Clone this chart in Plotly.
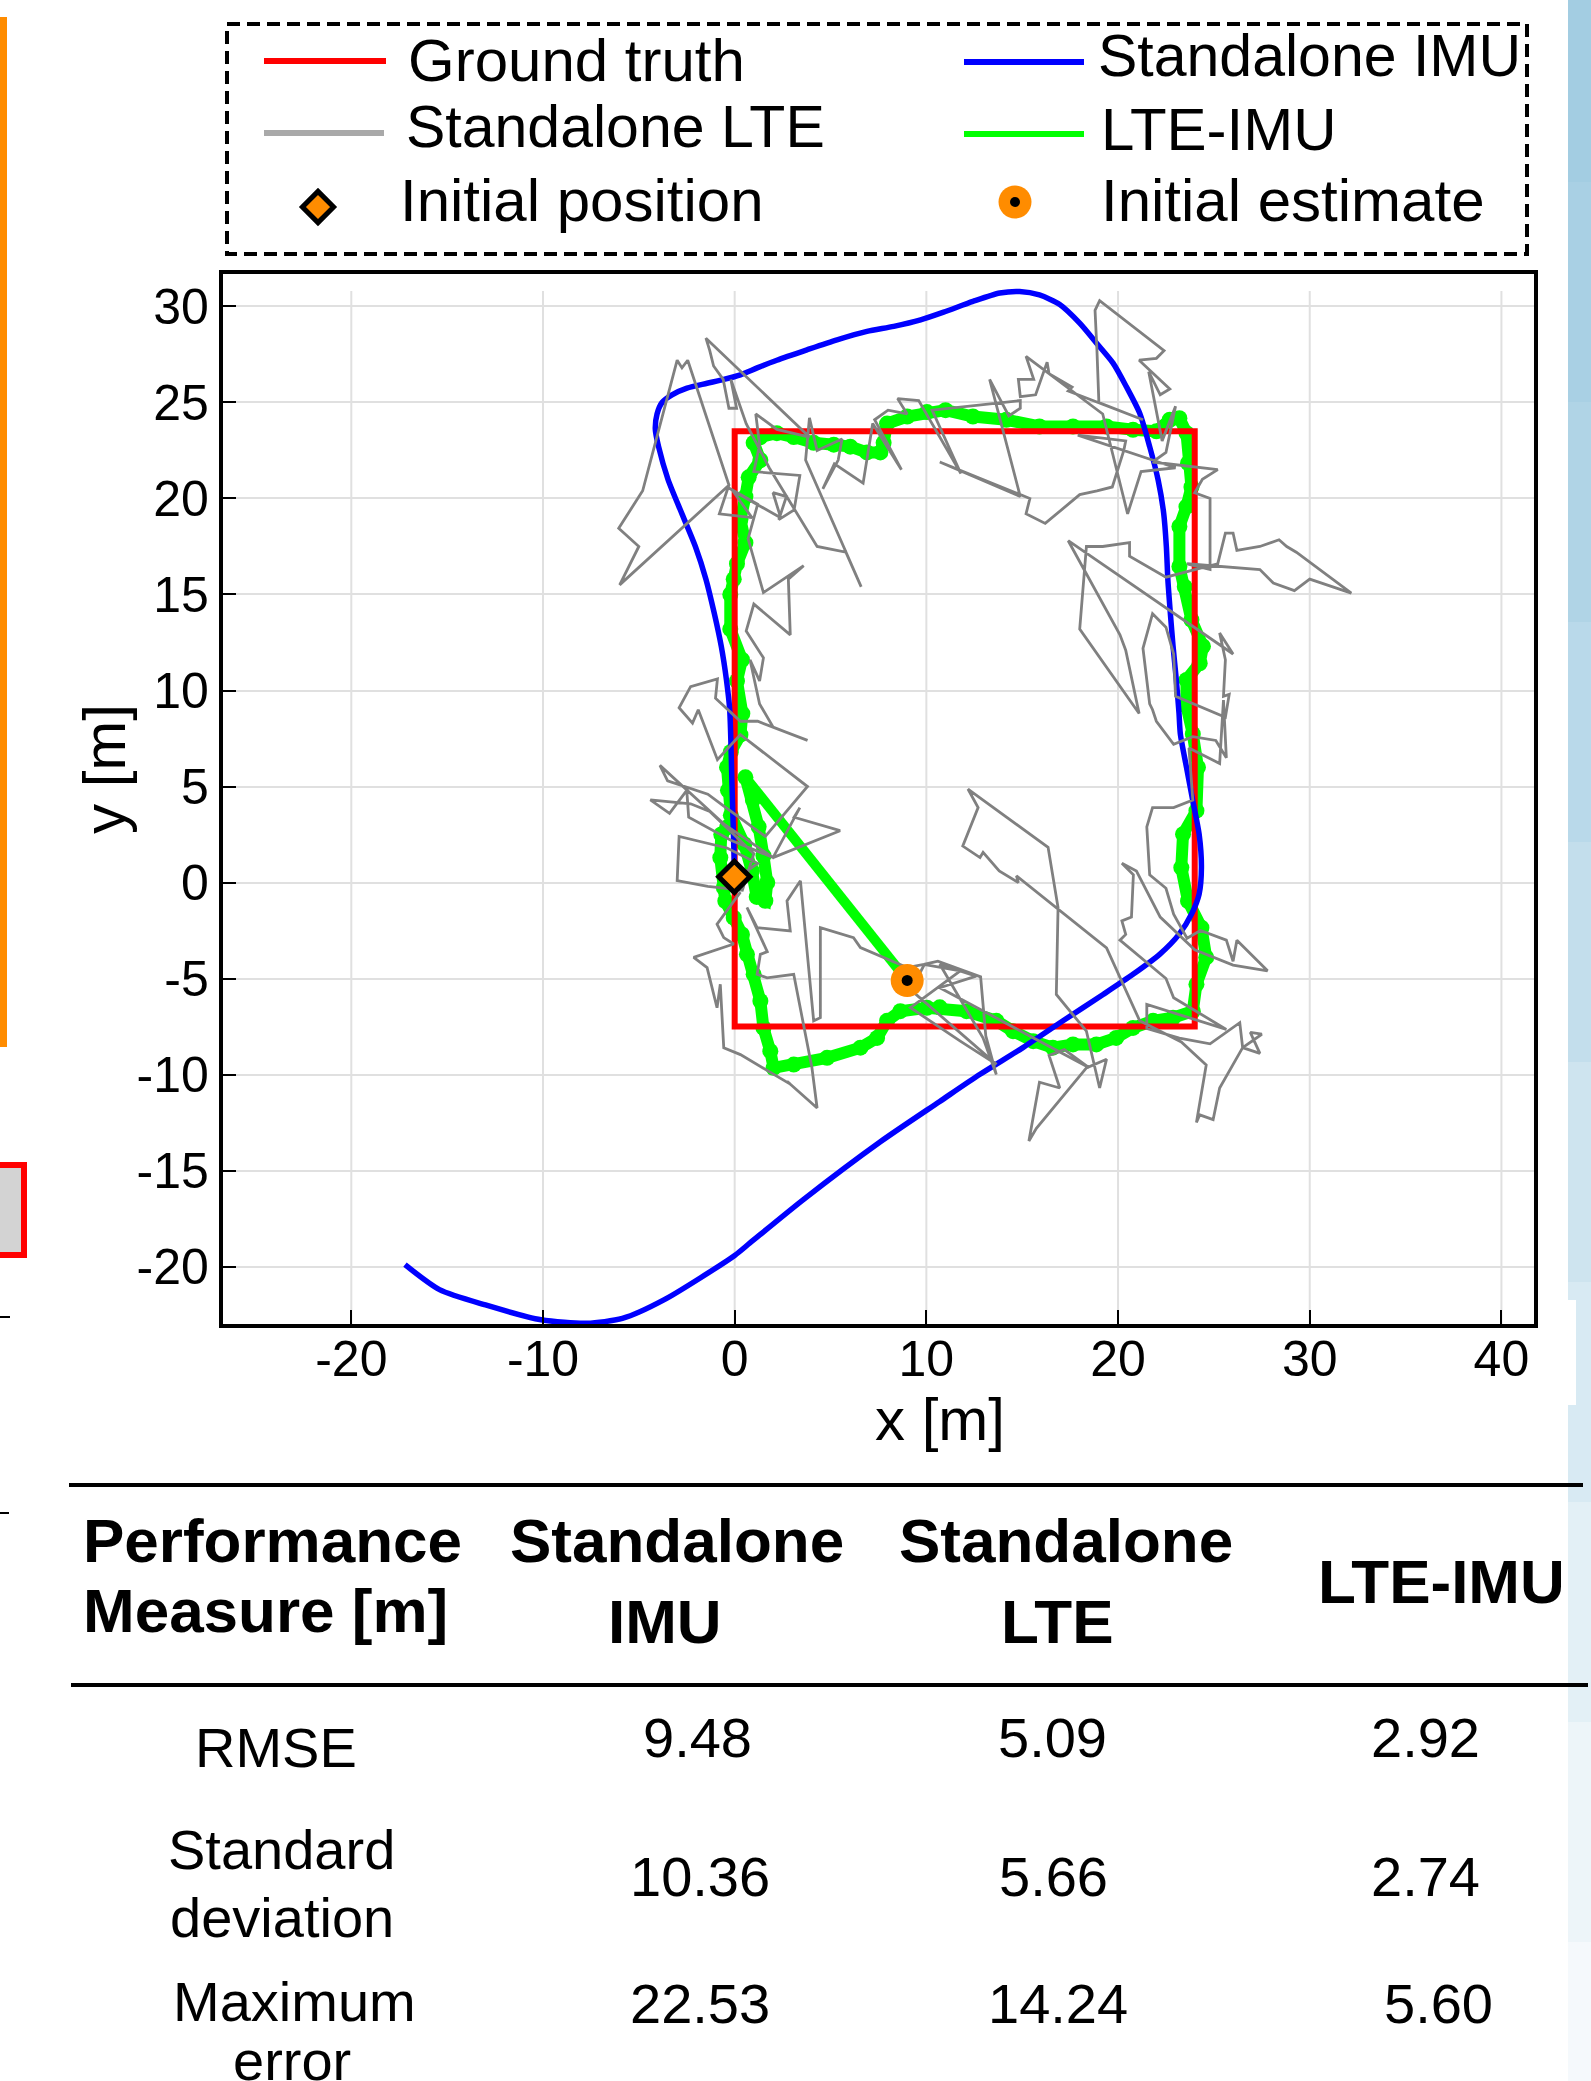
import plotly.graph_objects as go

W, H = 1591, 2081
FONT = "Liberation Sans, Arial, sans-serif"

# ---------------- data ----------------
gt_x = [0, 0, 24, 24, 0, 0]
gt_y = [0, 23.5, 23.5, -7.5, -7.5, 0]

imu_x = [0.0, -0.14, -0.26, -0.43, -0.7, -1.06, -1.5, -2.05, -2.75, -3.48, -3.97, -4.14, -4.05, -3.79,
         -3.27, -2.49, -1.44, -0.57, 0.3, 1.17, 2.2, 3.77, 5.34, 6.9, 8.3, 9.7, 10.9, 12.43, 13.83, 14.87,
         15.9, 16.96, 18.0, 18.87, 19.74, 20.43, 21.13, 21.65, 22.09, 22.38, 22.52, 22.6, 22.73, 22.87,
         23.04, 23.18, 23.25, 23.57, 23.9, 24.23, 24.35, 24.23, 23.83, 23.18, 22.17, 20.78, 19.22, 17.13,
         15.04, 12.78, 10.7, 7.6, 3.6, 0.8, 0.0, -3.72, -5.86, -7.72, -10.1, -13.0, -15.4, -17.2]
imu_y = [0.3, 5.1, 9.0, 10.55, 12.3, 14.0, 15.8, 17.5, 19.2, 21.0, 22.7, 23.6, 24.4, 25.0,
         25.4, 25.75, 26.0, 26.2, 26.44, 26.8, 27.2, 27.74, 28.26, 28.7, 28.96, 29.3, 29.7, 30.26, 30.7, 30.78,
         30.6, 30.1, 29.13, 28.1, 27.05, 25.83, 24.44, 22.7, 20.97, 19.24, 17.5, 15.76, 14.0, 12.3,
         10.55, 8.82, 7.74, 6.0, 4.26, 2.52, 0.78, -0.6, -1.65, -2.7, -3.74, -4.78, -5.83, -7.2,
         -8.6, -10.0, -11.4, -13.5, -16.5, -18.77, -19.42, -21.75, -22.7, -22.95, -22.77, -22.0, -21.2, -19.9]

lte_x = [0.2, 1.2, -0.4, -2.9, -3.0, -1.4, 0.4, 1.0, -1.3, -2.3, -4.4, -3.4, -2.5, -2.4, -0.2, 2.0, 3.4, 3.1,
         5.5, 2.0, -0.5, -3.9, -3.5, -1.4, -0.6, 1.6, 3.8, 0.3, -0.9, -1.9, -2.2, -2.9, -2.3, -0.9, -1.0, 0.3,
         1.2, 3.8, 2.0, 1.3, 0.8, 1.3, 1.5, 0.6, 1.0, 2.9, 2.8, 3.6, 1.5, 0.7, 1.2, -0.4, -6.0, -5.0, -6.05,
         -4.8, -3.0, -2.75, -2.45, -0.3, -0.8, 0.9, -0.1, 2.4, 2.0, 2.7, 2.3, 3.1, 3.4, 1.0, 1.3, 1.1, 2.2,
         3.9, -1.5, -1.3, -1.1, -0.6, -0.3, 0.1, -0.2, 0.6, 1.8, 4.3, 5.8, 6.6, 3.7, 3.9,
         4.3, 5.6, 5.4, 4.6, 5.2, 6.7, 7.2, 8.7, 7.3, 8.0, 9.0, 8.5, 9.6, 11.8, 10.3, 14.9, 14.9, 14.3, 13.3,
         14.9, 10.7, 15.4, 15.2, 16.2, 18.0, 18.9, 19.7, 20.3, 20.4, 17.9, 23.0, 21.2, 20.5, 19.2, 15.2,
         15.6, 14.8, 14.9, 15.7, 16.3, 16.4, 17.6, 17.4, 21.3, 19.0, 18.9, 18.8, 19.04, 22.4, 22.0, 21.1,
         22.7, 22.2, 21.6, 22.3, 23.0, 22.5, 21.8,
         25.2, 24.4, 24.0, 24.8, 24.8, 23.6, 27.4, 28.1, 29.2, 30.0, 32.17, 29.3, 28.8, 28.4, 27.4, 26.2,
         26.0, 25.6, 25.2, 24.4, 22.5, 20.6, 20.6, 19.2, 18.35, 18.0, 21.1, 20.4, 20.1, 17.4, 26.0, 25.3,
         25.6, 25.5, 25.8, 25.6, 23.0, 22.9, 22.5, 21.8, 21.3, 21.65, 21.8, 22.0, 22.9, 23.9, 25.1, 25.65,
         25.5, 25.3, 23.7, 23.9, 22.9, 21.8, 21.5, 21.65, 22.5, 22.9, 23.6, 24.3, 25.65, 26.0, 26.2, 27.8,
         26.0, 24.0, 22.2, 20.96, 20.2, 20.8, 20.7, 20.2, 20.4, 20.1, 22.5, 22.9, 25.65, 21.5, 21.5, 23.2,
         24.8, 26.35, 26.5, 27.4, 26.9, 27.5, 26.5, 25.3, 24.96, 24.26, 24.09, 24.6, 23.3, 21.13, 19.4,
         14.7, 14.8, 13.8, 12.96, 12.8, 11.9, 12.7, 12.17, 16.35, 16.87, 16.78, 18.35, 19.04, 19.4, 18.35,
         15.74, 15.35, 15.9, 16.96, 16.4, 17.2, 18.5, 10.7, 12.6, 10.7, 12.96, 13.65, 13.1, 12.83, 10.6,
         9.9, 9.2, 13.66, 11.77, 9.17, 11.77, 9.86, 9.0, 6.56, 6.2, 4.47, 4.47, 4.12, 3.43, 2.73, 2.9, 1.17,
         0.64, 1.7, 1.34, 1.17, 1.69, 3.08, 4.03, 4.3, 2.73, 2.9, 0.3, -0.57, -0.75, -0.92, -1.44, -2.14,
         -0.05, -0.57, -0.92, 0.3]
lte_y = [0.3, 1.0, 1.8, 2.4, 0.1, -0.2, -0.4, 1.5, 3.7, 4.1, 4.3, 3.6, 4.8, 3.4, 2.2, 1.3, 3.9, 3.4,
         2.7, 1.3, 3.0, 6.1, 5.3, 4.6, 4.0, 2.4, 5.0, 7.7, 6.4, 9.0, 8.3, 9.1, 10.2, 10.6, 9.6, 8.4,
         8.4, 7.4, 8.1, 9.3, 11.6, 10.5, 11.7, 13.1, 14.5, 12.9, 15.8, 16.5, 15.1, 17.9, 19.7, 20.6, 15.5, 17.5, 18.45,
         20.4, 27.2, 26.8, 27.2, 20.7, 19.2, 19.0, 20.4, 19.0, 20.3, 20.1, 18.9, 19.4, 21.2, 21.4, 22.8, 24.4, 23.6,
         23.2, 28.35, 27.7, 26.9, 26.2, 24.7, 24.7, 26.2, 23.9, 21.6, 17.5, 17.2, 15.4, 22.0, 24.2,
         22.5, 23.1, 22.0, 20.5, 21.8, 20.8, 23.9, 21.5, 24.1, 24.6, 24.4, 25.2, 25.1, 21.3, 24.6, 25.1, 24.7, 24.3, 26.2,
         20.1, 21.9, 20.0, 19.2, 18.7, 20.2, 20.4, 20.6, 22.5, 23.0, 23.3, 21.6, 21.4, 19.2, 24.4, 27.4,
         26.2, 26.2, 25.3, 25.4, 27.1, 26.5, 25.8, 25.6, 24.1, 25.0, 27.7, 29.8, 30.3, 27.7, 27.3, 27.2,
         25.7, 25.4, 26.6, 23.0, 24.8, 22.4, 21.9,
         21.5, 21.0, 20.3, 20.0, 16.3, 16.6, 16.3, 15.6, 15.2, 15.8, 15.07, 17.2, 17.5, 17.85, 17.5, 17.3,
         18.2, 18.2, 16.6, 16.4, 15.9, 17.0, 17.7, 17.5, 17.5, 13.2, 8.8, 12.1, 12.9, 17.8, 11.9, 13.0,
         11.6, 9.7, 9.8, 8.6, 9.7, 11.9, 13.3, 14.0, 12.2, 9.3, 9.0, 8.4, 7.2, 7.6, 7.4, 6.5,
         9.5, 6.2, 7.0, 4.3, 3.9, 3.9, 2.9, 0.4, -0.3, -1.65, -2.9, -2.5, -3.0, -4.1, -3.0, -4.6,
         -4.3, -3.5, -1.8, 0.6, 1.0, 0.4, -1.8, -2.0, -2.7, -3.0, -5.0, -6.0, -7.65, -6.35, -7.6, -8.1,
         -8.4, -7.3, -8.6, -8.9, -7.8, -7.9, -8.6, -10.7, -12.35, -12.1, -12.5, -9.5, -8.3, -7.2, -3.4,
         0.35, 0.0, 0.6, 1.57, 1.3, 1.9, 3.9, 4.87, 1.83, -1.3, -5.83, -7.74, -10.7, -9.2, -9.65,
         -12.8, -13.46, -10.4, -10.7, -9.0, -8.7, -9.65, -5.48, -4.87, -4.26, -8.1, -10.0, -7.98, -4.91, -4.1,
         -4.26, -5.6, -9.47, -8.26, -6.52, -4.6, -4.26, -4.43, -3.39, -2.87, -2.35, -7.04, -7.2, 0.09, -0.96, -2.52, -2.35,
         -1.3, -3.6, -3.74, -4.78, -4.96, -4.78, -9.65, -11.74, -10.35, -10.5, -8.96, -8.6, -5.3, -6.52, -4.43, -3.9,
         -3.2, -2.87, -2.17, -0.5]

fus_x = [9.0, 0.56, 0.95, 1.25, 1.5, 1.7, 1.6, 1.15, 0.9, 0.5, -0.2, -0.35, -0.4, -0.2, 0.3, 0.4, 0.12, 0.38,
         -0.23, -0.23, -0.05, 0.12, 0.56, 0.3, 0.56, 0.73, 1.34, 0.99, 1.34, 2.2, 3.08, 4.12, 5.17, 6.03, 6.9,
         7.6, 7.77, 7.95, 9.0, 10.03, 11.0, 12.43, 14.17, 15.9, 17.65, 19.4, 20.78, 22.0, 22.7, 23.2, 23.57,
         23.65, 23.83, 23.57, 23.2, 23.2, 23.48, 23.83, 24.43, 24.26, 23.57, 23.57, 23.9, 24.17, 24.09, 23.39,
         23.3, 23.65, 24.35, 24.6, 24.09, 23.9, 22.87, 21.83, 20.78, 19.9, 18.87, 17.65, 16.6, 15.57, 14.52,
         13.65, 12.09, 10.7, 10.03, 8.64, 7.95, 7.43, 6.56, 4.82, 3.08, 2.03, 1.86, 1.5, 1.34, 0.99, 0.64,
         0.38, -0.05, -0.49, -0.57, -0.75, -0.7, -0.4]
fus_y = [-5.1, 5.48, 4.3, 2.9, 1.4, 0.0, -0.95, -0.75, 0.6, 2.0, 3.5, 4.8, 6.0, 6.8, 7.7, 8.8, 10.5, 11.6,
         13.2, 15.0, 15.8, 16.6, 17.7, 18.9, 20.1, 21.1, 22.0, 22.9, 23.2, 23.4, 23.2, 22.9, 22.8, 22.7, 22.4,
         22.4, 22.9, 23.9, 24.27, 24.5, 24.6, 24.27, 24.1, 23.75, 23.75, 23.75, 23.58, 23.5, 24.1, 24.18, 23.4,
         21.84, 20.6, 19.58, 18.54, 16.46, 15.4, 13.68, 12.3, 11.42, 10.55, 9.2, 7.74, 6.0, 3.74, 2.52,
         0.78, -0.96, -2.35, -3.9, -5.3, -6.7, -7.04, -7.2, -7.57, -8.09, -8.43, -8.43, -8.6, -8.26, -7.74,
         -7.2, -6.7, -6.5, -6.52, -6.7, -7.2, -8.09, -8.6, -9.13, -9.48, -9.65, -8.78, -7.57, -6.17, -4.78, -3.74,
         -2.7, -1.83, -0.96, -0.26, 1.3, 2.5, 2.87]

init_pos_x, init_pos_y = [-0.02], [0.3]
init_est_x, init_est_y = [9.0], [-5.1]

x_ticks = [-20, -10, 0, 10, 20, 30, 40]
y_ticks = [-20, -15, -10, -5, 0, 5, 10, 15, 20, 25, 30]
x_range = [-26.72, 41.70]
y_range = [-22.99, 31.69]

legend_names = ["Ground truth", "Standalone IMU", "Standalone LTE", "LTE-IMU", "Initial position", "Initial estimate"]

metric_names = [["RMSE"], ["Standard", "deviation"], ["Maximum", "error"]]
imu_vals = [9.48, 10.36, 22.53]
lte_vals = [5.09, 5.66, 14.24]
fus_vals = [2.92, 2.74, 5.60]

# ---------------- figure ----------------
fig = go.Figure()

RED, BLUE, GRAY, GREEN, ORANGE = "#FF0000", "#0000FF", "#808080", "#00FF00", "#FF8C00"

# LTE-IMU: first jump from the initial estimate, then the blobby tracked path
fig.add_trace(go.Scatter(x=fus_x[:2], y=fus_y[:2], mode="lines",
                         line=dict(color=GREEN, width=10)))
fig.add_trace(go.Scatter(x=fus_x[1:], y=fus_y[1:], mode="lines+markers",
                         line=dict(color=GREEN, width=12),
                         marker=dict(color=GREEN, size=16)))
fig.add_trace(go.Scatter(x=gt_x, y=gt_y, mode="lines", line=dict(color=RED, width=6)))
fig.add_trace(go.Scatter(x=imu_x, y=imu_y, mode="lines",
                         line=dict(color=BLUE, width=5.5, shape="spline", smoothing=0.7)))
fig.add_trace(go.Scatter(x=lte_x, y=lte_y, mode="lines", line=dict(color=GRAY, width=2.8)))
fig.add_trace(go.Scatter(x=init_pos_x, y=init_pos_y, mode="markers",
                         marker=dict(symbol="diamond", size=24, color=ORANGE,
                                     line=dict(color="black", width=5))))
fig.add_trace(go.Scatter(x=init_est_x, y=init_est_y, mode="markers",
                         marker=dict(symbol="circle", size=33, color=ORANGE, line=dict(width=0))))
fig.add_trace(go.Scatter(x=init_est_x, y=init_est_y, mode="markers",
                         marker=dict(symbol="circle", size=11, color="black", line=dict(width=0))))

# vertical grid lines (stop a bit below the top frame, like the reference)
for xv in x_ticks:
    fig.add_shape(type="line", xref="x", yref="y", x0=xv, x1=xv, y0=y_range[0], y1=30.8,
                  line=dict(color="#e0e0e0", width=2), layer="below")

# ---------------- overlay pixel axes for decorations ----------------
def px_line(x0, y0, x1, y1, color, width, dash=None, layer="above"):
    fig.add_shape(type="line", xref="x2", yref="y2", x0=x0, y0=y0, x1=x1, y1=y1,
                  line=dict(color=color, width=width, dash=dash), layer=layer)

def px_rect(x0, y0, x1, y1, fill, line_color=None, line_width=0, dash=None, layer="below"):
    fig.add_shape(type="rect", xref="x2", yref="y2", x0=x0, y0=y0, x1=x1, y1=y1,
                  fillcolor=fill,
                  line=dict(color=line_color if line_color else "rgba(0,0,0,0)", width=line_width, dash=dash),
                  layer=layer)

def px_text(txt, x, y, size, xanchor="center", bold=False, angle=0):
    fig.add_annotation(xref="x2", yref="y2", x=x, y=y, text=("<b>%s</b>" % txt) if bold else txt,
                       showarrow=False, xanchor=xanchor, yanchor="middle", textangle=angle,
                       font=dict(family=FONT, size=size, color="black"))

# right edge strip (blue gradient bands)
band_cols = ["#a3cde2", "#a9d0e4", "#b0d4e6", "#b9d9ea", "#c3deec", "#cee4ef",
             "#d8eaf3", "#e3f0f6", "#edf5f9", "#f5f9fc"]
edges = [0, 182, 402, 622, 842, 1062, 1282, 1502, 1722, 1942, 2081]
for i, c in enumerate(band_cols):
    px_rect(1568, edges[i], 1592, edges[i + 1], c)
px_rect(1568, 1300, 1576, 1405, "white")

# left edge artefacts
px_rect(-6, 17, 7, 1047, ORANGE)
px_rect(-12, 1165, 24, 1255, "#d3d3d3", RED, 6)
px_line(0, 1317, 10, 1317, "black", 2)
px_line(0, 1513, 9, 1513, "black", 2)

# legend box
px_rect(227, 24, 1527, 254, "rgba(0,0,0,0)", "black", 4, dash="13px,7px", layer="above")
px_line(264, 61, 386, 61, RED, 6)
px_line(964, 62, 1084, 62, BLUE, 6)
px_line(264, 133, 384, 133, "#a9a9a9", 6)
px_line(964, 134, 1084, 134, GREEN, 6)
fig.add_trace(go.Scatter(x=[318], y=[207], mode="markers", xaxis="x2", yaxis="y2",
                         marker=dict(symbol="diamond", size=24, color=ORANGE,
                                     line=dict(color="black", width=5))))
fig.add_trace(go.Scatter(x=[1015], y=[202], mode="markers", xaxis="x2", yaxis="y2",
                         marker=dict(symbol="circle", size=33, color=ORANGE, line=dict(width=0))))
fig.add_trace(go.Scatter(x=[1015], y=[202], mode="markers", xaxis="x2", yaxis="y2",
                         marker=dict(symbol="circle", size=10, color="black", line=dict(width=0))))

leg_pos = [(406, 60.5), (1096, 55.5), (404, 126.5), (1099, 129), (398, 200), (1099, 200)]
leg_size = [60, 59, 59, 60, 60, 60]
for name, (lx, ly), fs in zip(legend_names, leg_pos, leg_size):
    px_text(name, lx, ly, fs, xanchor="left")

# axis titles
px_text("x [m]", 940, 1419, 60)
px_text("y [m]", 104, 769, 60, angle=-90)

# table
px_line(69, 1485, 1583, 1485, "black", 4)
px_line(71, 1685, 1588, 1685, "black", 4)
px_text("Performance", 81, 1540.5, 62, xanchor="left", bold=True)
px_text("Measure [m]", 81, 1610, 62, xanchor="left", bold=True)
px_text("Standalone", 677, 1540.5, 62, bold=True)
px_text("IMU", 665, 1621, 62, bold=True)
px_text("Standalone", 1065.5, 1540.5, 62, bold=True)
px_text("LTE", 1057.5, 1621, 62, bold=True)
px_text("LTE-IMU", 1441, 1581, 62, bold=True)

px_text(metric_names[0][0], 276, 1747, 56)
px_text(metric_names[1][0], 281.5, 1849, 56)
px_text(metric_names[1][1], 281.5, 1917, 56)
px_text(metric_names[2][0], 294, 2001, 56)
px_text(metric_names[2][1], 291.5, 2060, 56)

row_y = [1737, 1876.5, 2003]
col2_x = [697.5, 699.5, 699.5]
col3_x = [1052.5, 1053, 1057.5]
col4_x = [1425.5, 1425.5, 1438]
for i in range(3):
    px_text("%.2f" % imu_vals[i], col2_x[i], row_y[i], 56)
    px_text("%.2f" % lte_vals[i], col3_x[i], row_y[i], 56)
    px_text("%.2f" % fus_vals[i], col4_x[i], row_y[i], 56)

# ---------------- layout ----------------
fig.update_layout(
    width=W, height=H,
    margin=dict(l=0, r=0, t=0, b=0),
    paper_bgcolor="white", plot_bgcolor="rgba(0,0,0,0)",
    showlegend=False,
    font=dict(family=FONT, color="black"),
    xaxis=dict(domain=[222.5 / W, 1534 / W], range=x_range, anchor="y",
               tickvals=x_ticks, ticktext=[str(v) for v in x_ticks],
               ticks="inside", ticklen=14, tickwidth=2, tickcolor="black",
               ticklabelstandoff=-12,
               showline=True, linecolor="black", linewidth=3.5, mirror=True,
               showgrid=False, zeroline=False,
               tickfont=dict(family=FONT, size=50, color="black")),
    yaxis=dict(domain=[1 - 1324 / H, 1 - 274 / H], range=y_range, anchor="x",
               tickvals=y_ticks, ticktext=[str(v) for v in y_ticks],
               ticks="inside", ticklen=14, tickwidth=2, tickcolor="black",
               showline=True, linecolor="black", linewidth=3.5, mirror=True,
               showgrid=True, gridcolor="#e0e0e0", gridwidth=2, zeroline=False,
               tickfont=dict(family=FONT, size=50, color="black")),
    xaxis2=dict(domain=[0, 1], range=[0, W], anchor="y2", visible=False, fixedrange=True),
    yaxis2=dict(domain=[0, 1], range=[H, 0], anchor="x2", visible=False, fixedrange=True),
)

# remove the default 8px page margin so the figure sits at the window's top-left corner
fig.write_html("out.html", config={"displayModeBar": False},
               post_script="document.body.style.margin='0';")
